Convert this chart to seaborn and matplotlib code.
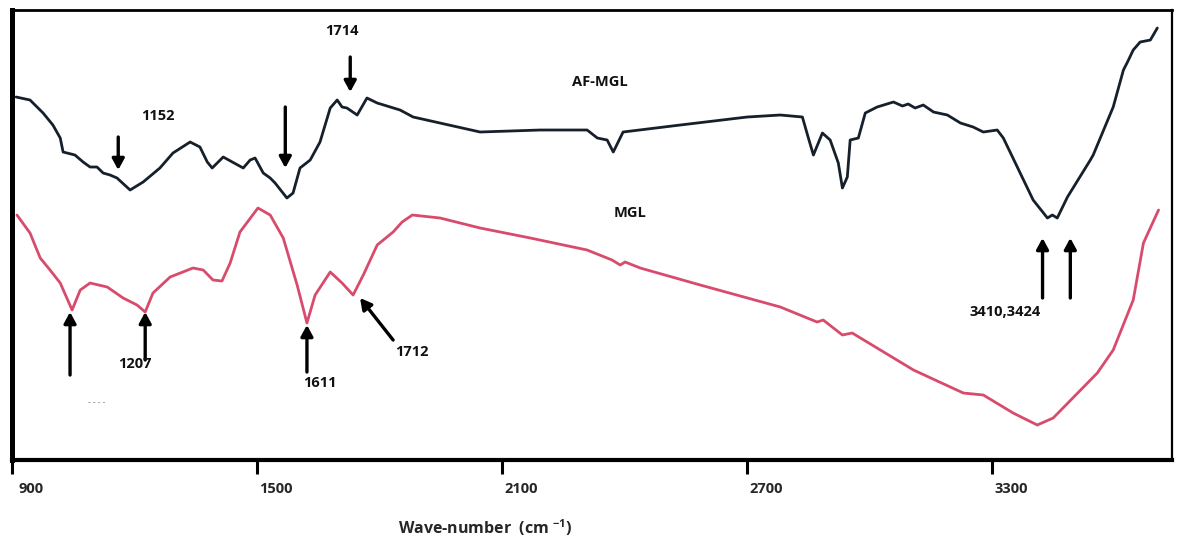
import numpy as np
import pandas as pd
import matplotlib
matplotlib.use("Agg")
import matplotlib.pyplot as plt
import matplotlib.transforms as mtransforms
import seaborn as sns

sns.set_theme(style="white")
plt.rcParams["font.family"] = ["Open Sans", "DejaVu Sans"]
plt.rcParams["mathtext.default"] = "regular"

# ---------------------------------------------------------------
# FTIR spectra (wave-number, transmittance a.u.)
# ---------------------------------------------------------------
af_mgl_wave = [910, 944, 976, 1000, 1018, 1025, 1054, 1074, 1091, 1108, 1123, 1140,
               1157, 1189, 1221, 1262, 1294, 1336, 1360, 1378, 1390, 1417, 1466,
               1483, 1495, 1515, 1532, 1544, 1573, 1588, 1605, 1630, 1654, 1679,
               1696, 1708, 1720, 1745, 1769, 1794, 1850, 1882, 2046, 2193, 2308,
               2333, 2357, 2372, 2396, 2536, 2700, 2781, 2835, 2849, 2862, 2884,
               2903, 2923, 2933, 2945, 2952, 2972, 2989, 3018, 3058, 3080, 3094,
               3111, 3131, 3156, 3190, 3222, 3253, 3278, 3312, 3327, 3400, 3435,
               3447, 3459, 3484, 3540, 3547, 3596, 3621, 3631, 3645, 3662, 3687,
               3704]
af_mgl_trans = [363, 360, 347, 335, 322, 308, 305, 298, 293, 293, 287, 285,
                282, 270, 278, 292, 307, 318, 313, 298, 292, 303, 292,
                300, 302, 287, 282, 277, 262, 267, 292, 300, 318, 352,
                360, 353, 352, 345, 362, 357, 350, 343, 328, 330, 330,
                322, 320, 308, 328, 335, 343, 345, 343, 323, 305, 327,
                320, 297, 272, 283, 320, 322, 347, 353, 358, 354, 356,
                352, 355, 348, 345, 337, 333, 328, 330, 322, 260, 242,
                245, 242, 263, 300, 305, 353, 390, 398, 410, 418, 420,
                432]

mgl_wave = [912, 944, 969, 993, 1018, 1047, 1067, 1091, 1133, 1172, 1206, 1226,
            1245, 1287, 1343, 1368, 1392, 1414, 1434, 1458, 1502, 1532, 1564,
            1598, 1622, 1642, 1679, 1708, 1735, 1760, 1794, 1833, 1855, 1880,
            1948, 2046, 2169, 2308, 2369, 2389, 2401, 2438, 2585, 2781, 2871,
            2886, 2933, 2957, 3107, 3229, 3278, 3351, 3410, 3449, 3557, 3596,
            3645, 3670, 3707]
mgl_trans = [245, 227, 202, 190, 177, 150, 170, 177, 173, 162, 155, 148,
             167, 183, 192, 190, 180, 179, 197, 228, 252, 245, 222,
             175, 137, 165, 188, 177, 165, 185, 215, 228, 238, 245,
             242, 232, 222, 210, 200, 195, 198, 192, 175, 153, 138,
             140, 125, 127, 90, 67, 65, 47, 35, 42, 87, 110,
             160, 217, 250]

x_ticks = [900, 1500, 2100, 2700, 3300]

spectra = pd.concat([
    pd.DataFrame({"wave": af_mgl_wave, "trans": af_mgl_trans, "sample": "AF-MGL"}),
    pd.DataFrame({"wave": mgl_wave, "trans": mgl_trans, "sample": "MGL"}),
])

narrow = ["Liberation Sans Narrow", "Open Sans", "DejaVu Sans"]

fig = plt.figure(figsize=(11.81, 5.41), dpi=100)
ax = fig.add_axes([0.0102, 0.1497, 0.9822, 0.8318])

sns.lineplot(data=spectra, x="wave", y="trans", hue="sample", sort=False,
             palette={"AF-MGL": "#16202b", "MGL": "#d84b6c"},
             linewidth=2.0, legend=False, ax=ax, estimator=None)

ax.set_xlim(900, 3740)
ax.set_ylim(0, 450)
ax.set_yticks([])
ax.set_xticks(x_ticks)
ax.set_xticklabels([str(t) for t in x_ticks], fontsize=10.5, fontweight="bold",
                   family=narrow)
ax.tick_params(axis="x", direction="out", length=10, width=2.2, color="black",
               bottom=True, pad=6)
offset = mtransforms.ScaledTranslation(0.19, 0, fig.dpi_scale_trans)
for lbl in ax.get_xticklabels():
    lbl.set_transform(lbl.get_transform() + offset)

ax.set_xlabel(r"Wave-number  (cm $^{-1}$)", fontsize=11.5, fontweight="bold",
              family=narrow)
ax.xaxis.set_label_coords(0.408, -0.128)
ax.set_ylabel("")

for side, lw in {"left": 3.6, "bottom": 3.0, "top": 2.0, "right": 1.6}.items():
    ax.spines[side].set_visible(True)
    ax.spines[side].set_color("black")
    ax.spines[side].set_linewidth(lw)

# ---------------------------------------------------------------
# Peak annotations
# ---------------------------------------------------------------
txt = dict(fontsize=10.5, fontweight="bold", ha="center", va="center", color="#111111")
arr = dict(arrowstyle="-|>,head_length=0.55,head_width=0.3", color="black", lw=2.4,
           shrinkA=0, shrinkB=0)

ax.text(1258, 344, "1152", **txt)
ax.annotate("", xy=(1160, 290), xytext=(1160, 323), arrowprops=arr)
ax.annotate("", xy=(1569, 292), xytext=(1569, 353), arrowprops=arr)
ax.text(1708, 429, "1714", **txt)
ax.annotate("", xy=(1728, 368), xytext=(1728, 403), arrowprops=arr)
ax.text(2340, 378, "AF-MGL", **txt)
ax.text(2413, 247, "MGL", **txt)

ax.annotate("", xy=(1042, 148), xytext=(1042, 85), arrowprops=arr)
ax.text(1108, 58, "- - - -", fontsize=6, ha="center", va="center", color="#555555")
ax.annotate("", xy=(1226, 148), xytext=(1226, 100), arrowprops=arr)
ax.text(1201, 96, "1207", **txt)
ax.annotate("", xy=(1622, 135), xytext=(1622, 88), arrowprops=arr)
ax.text(1654, 77, "1611", **txt)
ax.annotate("", xy=(1752, 162), xytext=(1833, 120), arrowprops=arr)
ax.text(1880, 108, "1712", **txt)
ax.annotate("", xy=(3423, 222), xytext=(3423, 162), arrowprops=arr)
ax.annotate("", xy=(3491, 222), xytext=(3491, 162), arrowprops=arr)
ax.text(3332, 148, "3410,3424", **txt)

fig.savefig("out.png", dpi=100, facecolor="white")
